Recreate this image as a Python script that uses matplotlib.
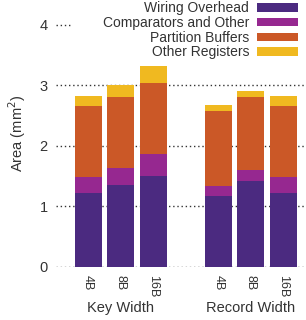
import matplotlib
matplotlib.use("Agg")
import matplotlib.pyplot as plt
from matplotlib.patches import Rectangle
import numpy as np

plt.rcParams['font.family'] = ['Liberation Sans', 'DejaVu Sans']

tick_labels = ["4B", "8B", "16B", "4B", "8B", "16B"]
groups = ["Key Width", "Record Width"]
series_names = ["Wiring Overhead", "Comparators and Other", "Partition Buffers", "Other Registers"]
wiring = [1.21, 1.35, 1.49, 1.16, 1.41, 1.21]
comparators = [0.27, 0.28, 0.37, 0.17, 0.18, 0.27]
partition = [1.17, 1.17, 1.18, 1.25, 1.21, 1.17]
other_regs = [0.18, 0.21, 0.27, 0.10, 0.11, 0.18]
colors = ["#4B2A80", "#962890", "#CB5827", "#F0B920"]

x = np.array([0, 1, 2, 4, 5, 6])
fig = plt.figure(figsize=(3.06, 3.2), dpi=100)
ax = fig.add_axes([0.183, 0.167, 0.817, 0.833])

bottom = np.zeros(len(x))
for vals, name, c in zip([wiring, comparators, partition, other_regs], series_names, colors):
    ax.bar(x, vals, bottom=bottom, width=0.83, color=c, label=name, zorder=2)
    bottom += np.array(vals)

ax.set_xlim(-0.99, 6.7)
ax.set_ylim(0, 4.41)
ax.set_yticks([0, 1, 2, 3, 4])
ax.set_xticks(x)
ax.set_xticklabels(tick_labels, rotation=270, fontsize=9, color="#333333")
ax.tick_params(axis='y', labelsize=10.5, colors="#333333", length=0, pad=6)
ax.tick_params(axis='x', length=0, pad=6)
for s in ax.spines.values():
    s.set_visible(False)
ax.yaxis.grid(True, linestyle=(0, (1, 2)), color="#333333", linewidth=1, zorder=0)
ax.set_axisbelow(True)
ax.set_ylabel("Area (mm$^2$)", fontsize=10.5, color="#333333", labelpad=8)

# white backdrop of the legend area (legend box is wider than its content)
ax.add_patch(Rectangle((0.064, 0.80), 0.94, 0.21, transform=ax.transAxes,
                       facecolor='white', edgecolor='none', zorder=1, clip_on=False))

for gx, g in zip([1, 5], groups):
    ax.text(gx, -0.57, g, transform=ax.transData, ha='center', va='top', fontsize=10.5, color="#333333")

leg = ax.legend(loc='upper right', bbox_to_anchor=(0.975, 1.0), markerfirst=False, frameon=True,
                fontsize=10, handlelength=3.0, handleheight=0.55, labelspacing=0.05,
                borderaxespad=0, edgecolor='none', facecolor='white', framealpha=1,
                handletextpad=0.55, borderpad=0.1)
for t in leg.get_texts():
    t.set_color("#333333")

fig.savefig("out.png", dpi=100)
